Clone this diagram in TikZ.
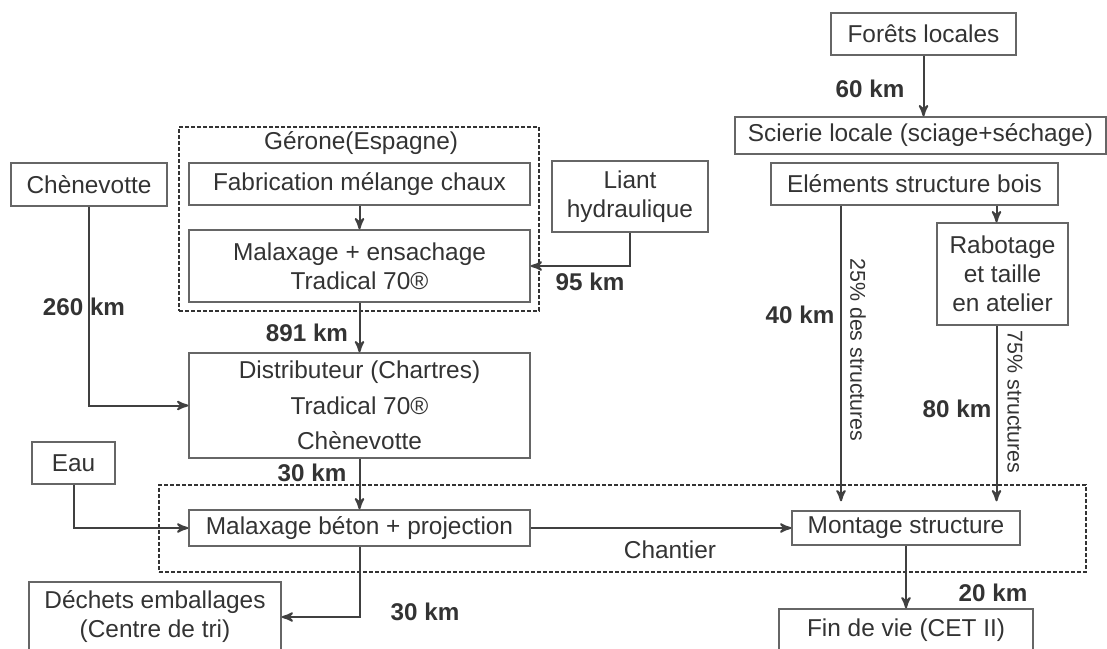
\documentclass[tikz,border=0pt]{standalone}
\usepackage{fontspec}
\setmainfont{Liberation Sans}
\usetikzlibrary{arrows}

\begin{document}
\begin{tikzpicture}[->,>=stealth',x=0.5pt,y=-0.5pt,text=black!80,
                    font=\fontsize{12.2}{14.5}\selectfont]
  \tikzstyle{etape}=[draw=black!60,line width=0.7pt,inner sep=0pt,align=center]
  \tikzstyle{zone}=[draw=black!80,dash pattern=on 2pt off 1pt,line width=0.9pt,inner sep=0pt]
  \tikzstyle{lien}=[draw=black!75,line width=1pt]
  \tikzstyle{km}=[font=\fontsize{12.1}{14}\selectfont\bfseries]
  \tikzstyle{part}=[font=\fontsize{10.7}{13}\selectfont,rotate=-90]

  \useasboundingbox (0,0) rectangle (1107,648);

  % chaux + chanvre
  \node[zone,minimum width=180pt,minimum height=92pt] (gerone) at (359,219) {};
  \node (geronetxt) at (361,143) {Gérone(Espagne)};
  \node[etape,minimum width=170.5pt,minimum height=21pt] (fab) at (359.5,184) {Fabrication mélange chaux};
  \node[etape,minimum width=170.5pt,minimum height=36pt] (malaxens) at (359.5,266) {Malaxage + ensachage\\Tradical 70®};
  \node[etape,minimum width=78pt,minimum height=21.5pt] (chenev) at (89,184.5) {Chènevotte};
  \node[etape,minimum width=78pt,minimum height=35.5pt] (liant) at (630,196.5) {Liant\\hydraulique};
  \node[etape,minimum width=170.5pt,minimum height=52.5pt] (distrib) at (359.5,405.5)
       {Distributeur (Chartres)\\[3.3pt]Tradical 70®\\[3.3pt]Chènevotte};
  \node[etape,minimum width=41.5pt,minimum height=21pt] (eau) at (73.5,463) {Eau};
  \node[etape,minimum width=170.5pt,minimum height=18pt] (malaxbeton) at (359.5,528) {Malaxage béton + projection};
  \node[etape,minimum width=126pt,minimum height=35pt] (dechets) at (155,617) {Déchets emballages\\(Centre de tri)};

  % bois
  \node[etape,minimum width=92.5pt,minimum height=21pt] (forets) at (923.5,34) {Forêts locales};
  \node[etape,minimum width=185.5pt,minimum height=18.5pt] (scierie) at (920.5,135.5) {Scierie locale (sciage+séchage)};
  \node[etape,minimum width=143.5pt,minimum height=21pt] (elements) at (914.5,184) {Eléments structure bois};
  \node[etape,minimum width=65.5pt,minimum height=51pt] (rabotage) at (1002.5,274) {Rabotage\\et taille\\en atelier};

  % chantier
  \node[zone,minimum width=463.5pt,minimum height=43.5pt] (chantier) at (622.5,528.5) {};
  \node (chantiertxt) at (670,550) {Chantier};
  \node[etape,minimum width=114pt,minimum height=17pt] (montage) at (906,528) {Montage structure};
  \node[etape,minimum width=127pt,minimum height=21pt] (fin) at (906,630) {Fin de vie (CET II)};

  \draw[lien] (fab) -- (malaxens);
  \draw[lien] (liant.south) |- (malaxens.east);
  \draw[lien] (malaxens) -- (distrib);
  \draw[lien] (chenev.south) |- (distrib.west);
  \draw[lien] (distrib) -- (malaxbeton);
  \draw[lien] (eau.south) |- (malaxbeton.west);
  \draw[lien] (malaxbeton.south) |- (dechets.east);
  \draw[lien] (malaxbeton) -- (montage);
  \draw[lien] (montage) -- (fin);
  \draw[lien] (forets) -- (forets |- scierie.north);
  \draw[lien] ([xshift=-3pt]rabotage.north |- elements.south) -- ([xshift=-3pt]rabotage.north);
  \draw[lien,shorten >=4.5pt] ([xshift=-36.75pt]elements.south) -- ([xshift=-36.75pt]elements.south |- montage.north);
  \draw[lien,shorten >=4.5pt] ([xshift=-3pt]rabotage.south) -- ([xshift=-3pt]rabotage.south |- montage.north);

  \node[km] (km260) at (84,307) {260 km};
  \node[km] (km95) at (590,282) {95 km};
  \node[km] (km891) at (307,333) {891 km};
  \node[km] (km30a) at (312,473) {30 km};
  \node[km] (km30b) at (425,612) {30 km};
  \node[km] (km60) at (870,89) {60 km};
  \node[km] (km40) at (800,315) {40 km};
  \node[km] (km80) at (957,409) {80 km};
  \node[km] (km20) at (993,593) {20 km};
  \node[part] (part25) at (858,350) {25\% des structures};
  \node[part] (part75) at (1015,402) {75\% structures};
\end{tikzpicture}
\end{document}
